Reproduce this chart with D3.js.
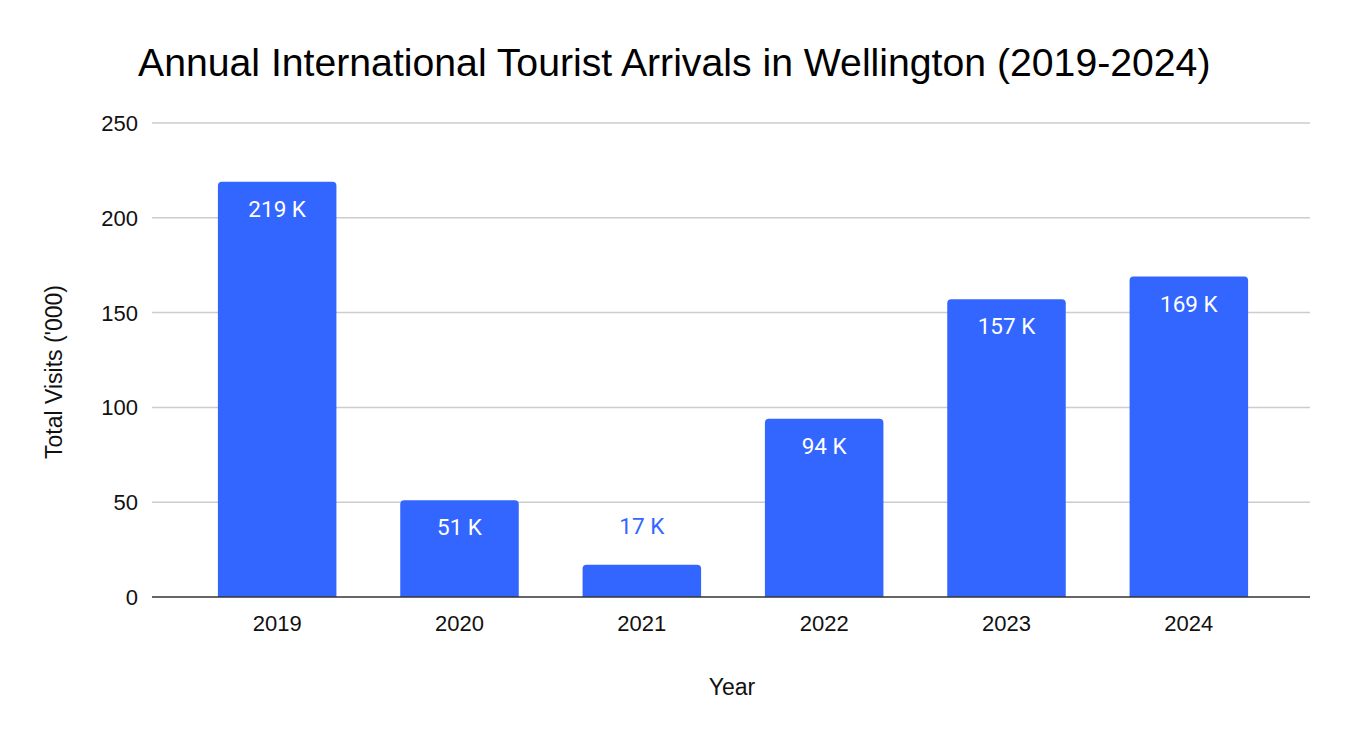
<!DOCTYPE html>
<html>
<head>
	<title>tourist-arrivals</title>
	<meta charset="utf-8">
	<style type="text/css">
		body { margin: 0; background: #fff; }
		text { font-family: "Liberation Sans", Arial, sans-serif; }
	</style>
</head>
<body>

<script type="text/javascript" src="https://cdn.jsdelivr.net/npm/d3@7"></script>
<script type="text/javascript">
	// data
	var years = ["2019", "2020", "2021", "2022", "2023", "2024"];
	var visits = [219, 51, 17, 94, 157, 169];
	var yTicks = [0, 50, 100, 150, 200, 250];

	var w = 1348;
	var h = 738;
	var barColor = "#3366ff";

	var svg = d3.select("body").append("svg").attr("width", w).attr("height", h);

	// scales
	var x = d3.scaleBand().domain(years).range([186, 1280]).paddingInner(0.35).paddingOuter(0.175);
	var y = d3.scaleLinear().domain([0, 250]).range([597, 123]);
	var gridLeft = 152, gridRight = 1310;

	// title
	svg.append("text")
		.attr("x", 138).attr("y", 76)
		.attr("font-size", 39.2)
		.attr("fill", "#000")
		.text("Annual International Tourist Arrivals in Wellington (2019-2024)");

	// gridlines
	svg.selectAll("line.grid")
		.data(yTicks.slice(1))
		.enter()
		.append("line")
		.attr("class", "grid")
		.attr("x1", gridLeft).attr("x2", gridRight)
		.attr("y1", d => y(d)).attr("y2", d => y(d))
		.attr("stroke", "#cccccc").attr("stroke-width", 1.5);

	// y tick labels
	svg.selectAll("text.ytick")
		.data(yTicks)
		.enter()
		.append("text")
		.attr("class", "ytick")
		.attr("x", 138)
		.attr("y", d => y(d))
		.attr("dy", "0.36em")
		.attr("text-anchor", "end")
		.attr("font-size", 22)
		.attr("fill", "#111")
		.text(d => d);

	// bars with rounded tops
	var r = 4;
	function barPath(d, i) {
		var x0 = x(years[i]), x1 = x0 + x.bandwidth();
		var y0 = y(0), y1 = y(d);
		return "M" + x0 + "," + y0 +
			"V" + (y1 + r) +
			"Q" + x0 + "," + y1 + " " + (x0 + r) + "," + y1 +
			"H" + (x1 - r) +
			"Q" + x1 + "," + y1 + " " + x1 + "," + (y1 + r) +
			"V" + y0 + "Z";
	}
	svg.selectAll("path.bar")
		.data(visits)
		.enter()
		.append("path")
		.attr("class", "bar")
		.attr("fill", barColor)
		.attr("d", barPath);

	// baseline
	svg.append("line")
		.attr("x1", gridLeft).attr("x2", gridRight)
		.attr("y1", y(0)).attr("y2", y(0))
		.attr("stroke", "#333").attr("stroke-width", 1.5);

	// data labels (inside if the bar is tall enough)
	svg.selectAll("text.label")
		.data(visits)
		.enter()
		.append("text")
		.attr("class", "label")
		.attr("x", (d, i) => x(years[i]) + x.bandwidth() / 2)
		.attr("y", d => (y(0) - y(d) > 45) ? y(d) + 35 : y(d) - 31)
		.attr("text-anchor", "middle")
		.attr("font-size", 22.5)
		.style("font-family", "Roboto, sans-serif")
		.attr("fill", d => (y(0) - y(d) > 45) ? "#ffffff" : barColor)
		.text(d => d + " K");

	// x tick labels
	svg.selectAll("text.xtick")
		.data(years)
		.enter()
		.append("text")
		.attr("class", "xtick")
		.attr("x", d => x(d) + x.bandwidth() / 2)
		.attr("y", 631)
		.attr("text-anchor", "middle")
		.attr("font-size", 22)
		.attr("fill", "#111")
		.text(d => d);

	// axis titles
	svg.append("text")
		.attr("x", 732).attr("y", 695)
		.attr("text-anchor", "middle")
		.attr("font-size", 23)
		.attr("fill", "#111")
		.text("Year");

	svg.append("text")
		.attr("transform", "translate(62,372) rotate(-90)")
		.attr("text-anchor", "middle")
		.attr("font-size", 23)
		.attr("fill", "#111")
		.text("Total Visits ('000)");
</script>
</body>
</html>
